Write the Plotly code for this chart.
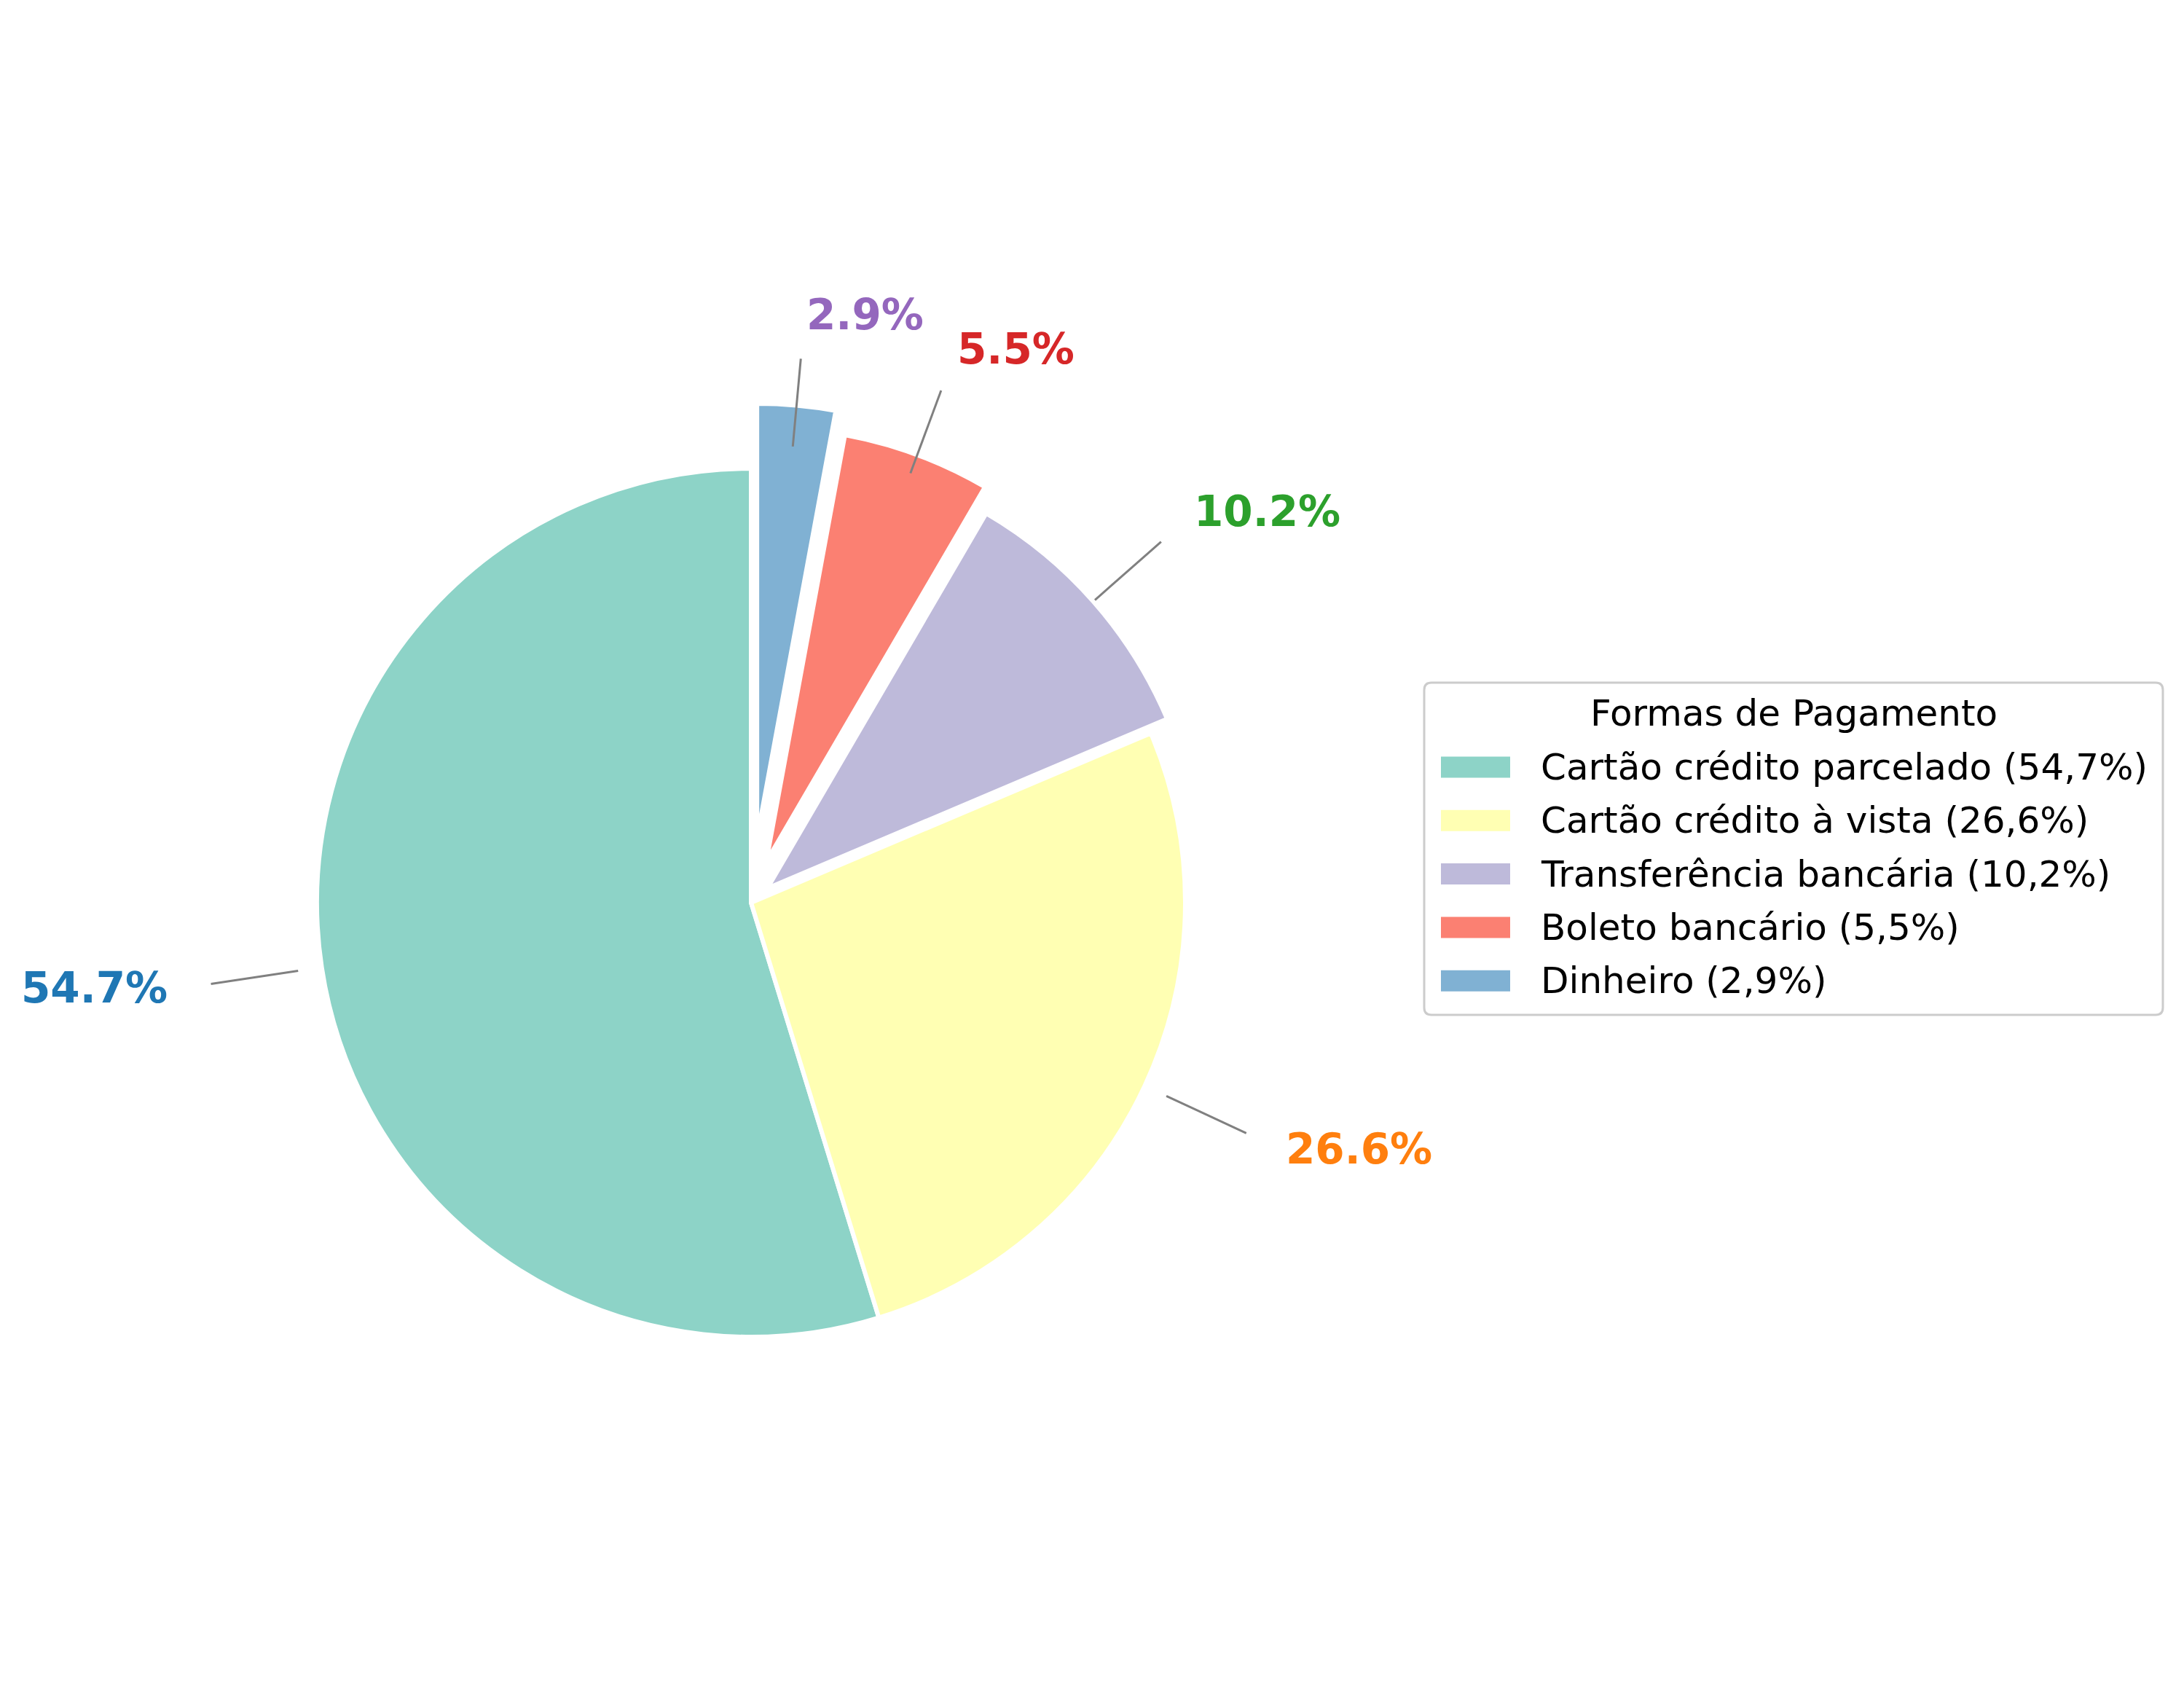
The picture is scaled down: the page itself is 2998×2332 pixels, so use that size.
import math
import plotly.graph_objects as go

# ---- data ----
categories = ["Cartão crédito parcelado", "Cartão crédito à vista",
              "Transferência bancária", "Boleto bancário", "Dinheiro"]
values = [54.7, 26.6, 10.2, 5.5, 2.9]
pulls = [0, 0, 0.05, 0.10, 0.15]
slice_colors = ["#8dd3c7", "#ffffb3", "#bebada", "#fb8072", "#80b1d3"]
label_colors = ["#1f77b4", "#ff7f0e", "#2ca02c", "#d62728", "#9467bd"]
legend_title = "Formas de Pagamento"

# ---- layout geometry (pixels) ----
W, H = 2998, 2332
CX, CY, R = 1031, 1239, 596
half = R * (1 + max(pulls))

total = sum(values)
# plotly's counterclockwise pies end the first slice at `rotation`;
# rotate so the first slice starts at 12 o'clock and runs counterclockwise
start_rot = -values[0] / total * 360

fig = go.Figure(go.Pie(
    labels=categories, values=values, pull=pulls, sort=False,
    direction="counterclockwise", rotation=start_rot,
    marker=dict(colors=slice_colors, line=dict(color="white", width=6)),
    textinfo="none", showlegend=False, hoverinfo="label+percent",
    domain=dict(x=[(CX - half) / W, (CX + half) / W],
                y=[1 - (CY + half) / H, 1 - (CY - half) / H]),
))

def to_paper(px, py):
    return px / W, 1 - py / H

cum = 0.0
for v, c in zip(values, label_colors):
    mid = (cum + v / 2) / total
    cum += v
    theta = -2 * math.pi * mid
    s, co = math.sin(theta), math.cos(theta)

    def pt(d):
        return to_paper(CX + d * R * s, CY - d * R * co)

    x0, y0 = pt(1.055)
    x1, y1 = pt(1.258)
    fig.add_shape(type="line", xref="paper", yref="paper",
                  x0=x0, y0=y0, x1=x1, y1=y1,
                  line=dict(color="#808080", width=3))
    tx, ty = pt(1.355)
    fig.add_annotation(x=tx, y=ty, xref="paper", yref="paper",
                       text=f"{v:.1f}%", showarrow=False, yshift=3,
                       xanchor="left" if s > 0 else "right", yanchor="middle",
                       font=dict(family="DejaVu Sans", size=58, color=c, weight="bold"))

# ---- legend (drawn manually to match large patches) ----
LX0, LY0, LX1, LY1 = 1955, 937, 2969, 1393
rad = 10
rx, ry = rad / W, rad / H
ax0, ay1 = to_paper(LX0, LY0)
ax1, ay0 = to_paper(LX1, LY1)
path = (f"M {ax0+rx},{ay1} L {ax1-rx},{ay1} Q {ax1},{ay1} {ax1},{ay1-ry} "
        f"L {ax1},{ay0+ry} Q {ax1},{ay0} {ax1-rx},{ay0} "
        f"L {ax0+rx},{ay0} Q {ax0},{ay0} {ax0},{ay0+ry} "
        f"L {ax0},{ay1-ry} Q {ax0},{ay1} {ax0+rx},{ay1} Z")
fig.add_shape(type="path", xref="paper", yref="paper", path=path,
              line=dict(color="#cccccc", width=3), fillcolor="rgba(255,255,255,0.8)")

tx, ty = to_paper((LX0 + LX1) / 2, 979)
fig.add_annotation(x=tx, y=ty, xref="paper", yref="paper", text=legend_title,
                   showarrow=False, xanchor="center", yanchor="middle",
                   font=dict(family="DejaVu Sans", size=50, color="black"))

ROW0, PITCH = 1053, 73.3
for i, (cat, v, col) in enumerate(zip(categories, values, slice_colors)):
    yc = ROW0 + PITCH * i
    px0, py0 = to_paper(1978, yc + 14.5)
    px1, py1 = to_paper(2073, yc - 14.5)
    fig.add_shape(type="rect", xref="paper", yref="paper",
                  x0=px0, y0=py0, x1=px1, y1=py1,
                  line=dict(width=0), fillcolor=col)
    lx, ly = to_paper(2113, yc)
    label = f"{cat} ({v:.1f}%)".replace(".", ",")
    fig.add_annotation(x=lx, y=ly, xref="paper", yref="paper", text=label,
                       showarrow=False, xanchor="left", yanchor="middle",
                       font=dict(family="DejaVu Sans", size=50, color="black"))

fig.update_layout(width=W, height=H, margin=dict(l=0, r=0, t=0, b=0),
                  paper_bgcolor="white", plot_bgcolor="white", showlegend=False)

fig.write_html("out.html", config={"displayModeBar": False},
               post_script="document.body.style.margin='0';document.body.style.overflow='hidden';")
